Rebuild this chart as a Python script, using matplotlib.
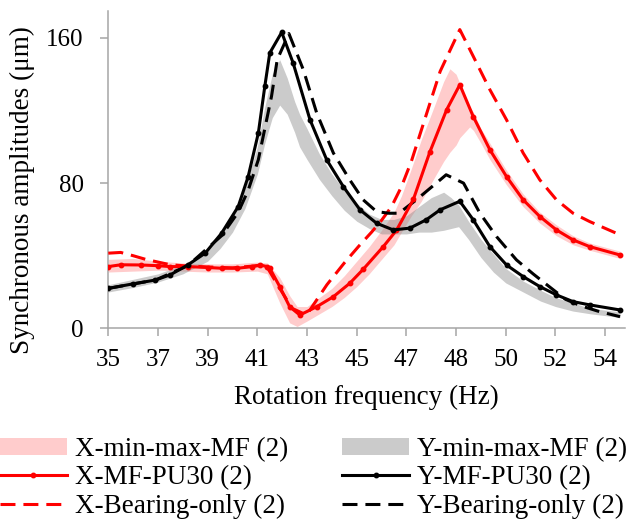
import numpy as np
import matplotlib
matplotlib.use("Agg")
import matplotlib.pyplot as plt
from matplotlib.patches import Patch
from matplotlib.lines import Line2D

# ---- data -----------------------------------------------------------------
tick_hz = [35, 37, 39, 41, 43, 45, 47, 48, 50, 52, 54]
tick_labels = ["35", "37", "39", "41", "43", "45", "47", "48", "50", "52", "54"]

# Y-MF-PU30 (2)
y_mf_hz = [35.0, 36.0, 36.9, 37.5, 38.2, 38.9, 39.56, 40.23, 40.63, 41.04, 41.3, 41.5,
           41.98, 42.44, 43.12, 43.79, 44.46, 45.13, 45.8, 46.47, 47.07, 47.4, 47.68,
           48.15, 48.69, 49.36, 50.03, 50.7, 51.37, 52.04, 52.71, 53.38, 54.6]
y_mf_amp = [22.0, 24.5, 26.6, 29.5, 34.9, 41.4, 52.4, 67.1, 83.6, 107.6, 133.3, 151.7,
            163.1, 146.2, 114.9, 92.9, 78.1, 65.3, 57.9, 54.2, 55.2, 59.8, 65.3,
            70.0, 59.8, 45.0, 34.9, 28.5, 23.0, 18.4, 14.7, 12.9, 10.1]

# Y-Bearing-only (2)
y_bo_hz = [35.0, 36.9, 38.2, 39.56, 40.23, 40.63, 41.04, 41.3, 41.57, 41.8, 42.27,
           42.85, 43.39, 44.06, 44.72, 45.26, 45.8, 46.3, 46.7, 47.2, 47.68, 47.8,
           48.3, 48.96, 49.63, 50.43, 51.1, 51.7, 52.4, 53.0, 53.7, 54.6]
y_bo_amp = [22.0, 26.6, 34.5, 51.0, 64.0, 76.0, 92.9, 110.0, 127.8, 148.0, 162.4,
            142.5, 118.6, 96.6, 81.8, 70.8, 64.3, 63.4, 63.4, 70.8, 81.8, 84.6,
            80.0, 63.4, 50.5, 37.7, 30.0, 23.5, 16.0, 12.5, 9.5, 6.4]

# X-MF-PU30 (2)
x_mf_hz = [35.0, 35.5, 36.3, 37.0, 37.5, 38.2, 39.0, 39.56, 40.2, 40.8, 41.1, 41.4,
           41.5, 41.9, 42.3, 42.71, 43.39, 44.06, 44.72, 45.26, 46.07, 46.6, 47.14,
           47.47, 47.81, 48.15, 48.69, 49.36, 50.03, 50.7, 51.37, 52.04,
           52.71, 53.38, 54.6]
x_mf_amp = [34.0, 35.0, 34.9, 34.5, 34.0, 34.0, 33.5, 33.1, 33.1, 34.0, 34.9, 34.0,
            33.1, 23.0, 11.9, 7.3, 11.9, 17.4, 24.8, 32.5, 45.0, 54.0, 71.0,
            97.0, 120.4, 134.2, 116.7, 98.4, 83.6, 70.8, 61.6, 54.2,
            48.7, 45.0, 40.4]

# X-Bearing-only (2)
x_bo_hz = [35.0, 35.5, 36.0, 36.5, 37.0, 37.5, 38.0, 39.0, 40.0, 41.0, 41.4, 41.9,
           42.4, 42.98, 43.8, 44.5, 45.1, 45.6, 46.0, 46.4, 46.8, 47.1, 47.4, 47.68,
           48.15, 48.69, 49.36, 50.03, 50.7, 51.37, 52.04, 52.71, 53.38, 54.6]
x_bo_amp = [41.4, 41.8, 40.0, 38.0, 36.5, 35.0, 34.5, 33.8, 33.3, 34.5, 33.5, 22.0,
            11.0, 7.3, 24.0, 36.0, 45.5, 53.0, 59.5, 67.0, 78.0, 92.0, 117.7, 141.6,
            164.6, 149.9, 131.5, 114.9, 96.6, 81.8, 70.8, 63.4, 58.8, 51.5]

# X-min-max-MF (2)
x_band_hz = [35.0, 36.0, 37.0, 38.0, 39.0, 40.0, 41.0, 41.4, 41.9, 42.3, 42.6, 43.0,
             43.5, 44.0, 44.5, 45.0, 45.5, 46.0, 46.5, 46.8, 47.1, 47.3, 47.5, 47.75,
             47.875, 48.0, 48.15, 48.55, 48.7, 49.0, 49.36, 50.03, 50.7, 51.37, 52.04,
             52.71, 53.38, 54.6]
x_band_lo = [31.0, 31.5, 32.0, 31.5, 31.0, 31.0, 31.5, 30.0, 14.0, 3.0, 1.0, 4.0,
             8.0, 12.0, 17.0, 23.0, 30.0, 38.0, 46.0, 53.0, 62.0, 70.0, 80.0, 92.0,
             97.0, 101.0, 105.0, 111.0, 109.0, 102.0, 93.0, 79.0, 67.0, 58.0, 51.0,
             46.0, 43.0, 38.5]
x_band_hi = [38.0, 38.5, 37.0, 36.0, 35.5, 35.5, 36.5, 36.0, 28.0, 18.0, 12.0, 12.0,
             17.0, 22.0, 29.0, 37.0, 45.0, 54.0, 64.0, 73.0, 88.0, 104.0, 118.0, 136.0,
             143.0, 140.0, 135.0, 122.0, 119.0, 110.0, 102.0, 87.0, 74.0, 64.0, 57.0,
             51.0, 47.0, 42.5]

# Y-min-max-MF (2)
y_band_hz = [35.0, 36.0, 37.0, 38.0, 39.0, 39.5, 40.0, 40.5, 41.0, 41.3, 41.6, 41.9,
             42.2, 42.5, 42.7, 43.0, 43.5, 44.0, 44.5, 45.0, 45.5, 46.0, 46.5, 47.0,
             47.25, 47.5, 47.75, 47.9, 48.1, 48.5, 49.0, 49.5, 50.0, 50.7, 51.4,
             52.0, 52.7, 53.4, 54.6]
y_band_lo = [20.0, 22.5, 25.5, 30.0, 37.0, 44.0, 53.0, 66.0, 85.0, 102.0, 116.0, 123.0,
             118.0, 108.0, 100.0, 93.0, 82.0, 73.0, 65.0, 59.0, 55.0, 52.0, 52.0, 52.0,
             53.0, 53.0, 54.0, 55.0, 56.0, 49.0, 39.0, 31.0, 25.0, 20.0, 15.0,
             12.0, 9.5, 8.0, 6.0]
y_band_hi = [24.0, 27.0, 30.0, 35.0, 43.0, 52.0, 62.0, 77.0, 100.0, 122.0, 140.0, 148.0,
             138.0, 125.0, 118.0, 110.0, 96.0, 85.0, 76.0, 69.0, 63.0, 60.0, 60.0, 62.0,
             67.0, 72.0, 75.0, 72.0, 68.0, 59.0, 49.0, 41.0, 33.0, 26.0, 21.0,
             17.0, 14.0, 11.0, 9.0]

# ---- style ----------------------------------------------------------------
plt.rcParams["font.family"] = ["Liberation Serif", "DejaVu Serif"]
AXIS_GREY = "#a6a6a6"
LW = 2.2
DASH = (4.9, 2.6)


def hz_to_pos(x):
    x = np.asarray(x, dtype=float)
    return np.where(x <= 47, x, np.where(x >= 48, x + 1.0, 47.0 + 2.0 * (x - 47.0)))


def pos_to_hz(p):
    p = np.asarray(p, dtype=float)
    return np.where(p <= 47, p, np.where(p >= 49, p - 1.0, 47.0 + (p - 47.0) / 2.0))


fig = plt.figure(figsize=(6.35, 5.21), dpi=100)
ax = fig.add_axes([108.3 / 635, 1 - 328.3 / 521, (625 - 108.3) / 635, (328.3 - 10.7) / 521])
ax.set_xscale("function", functions=(hz_to_pos, pos_to_hz))

ax.fill_between(x_band_hz, x_band_lo, x_band_hi, color="#ff0000", alpha=0.2,
                linewidth=0, zorder=1)
ax.fill_between(y_band_hz, y_band_lo, y_band_hi, color="#8c8c8c", alpha=0.45,
                linewidth=0, zorder=1)

ax.plot(x_bo_hz, x_bo_amp, color="#ff0000", lw=LW, dashes=DASH, zorder=3)
ax.plot(y_bo_hz, y_bo_amp, color="#000000", lw=LW, dashes=DASH, zorder=3)
ax.plot(x_mf_hz, x_mf_amp, color="#ff0000", lw=LW, marker="o", ms=3.2, zorder=4)
ax.plot(y_mf_hz, y_mf_amp, color="#000000", lw=LW, marker="o", ms=3.2, zorder=4)

ax.set_xlim(35, 54.8)
ax.set_ylim(0, 175)
ax.set_xticks(tick_hz)
ax.set_xticklabels(tick_labels)
ax.set_yticks([0, 80, 160])
ax.minorticks_off()

for side in ("top", "right"):
    ax.spines[side].set_visible(False)
for side in ("left", "bottom"):
    ax.spines[side].set_color(AXIS_GREY)
    ax.spines[side].set_linewidth(1.1)
ax.tick_params(axis="both", direction="out", length=5.8, width=1.1, color=AXIS_GREY,
               labelsize=18)
ax.tick_params(axis="y", pad=12)
ax.tick_params(axis="x", pad=9)

ax.set_xlabel("Rotation frequency (Hz)", fontsize=19.5, va="center")
ax.xaxis.set_label_coords(0.5, (328.3 - 397) / 317.6)
ax.set_ylabel("Synchronous amplitudes (μm)", fontsize=19.5, va="center")
ax.yaxis.set_label_coords((22 - 108.3) / 516.7, (328.3 - 190) / 317.6)

handles = [
    Patch(facecolor="#ff0000", alpha=0.2, linewidth=0),
    Line2D([], [], color="#ff0000", lw=LW, marker="o", ms=3.2, markevery=[1]),
    Line2D([], [], color="#ff0000", lw=LW, dashes=DASH),
    Patch(facecolor="#8c8c8c", alpha=0.45, linewidth=0),
    Line2D([], [], color="#000000", lw=LW, marker="o", ms=3.2, markevery=[1]),
    Line2D([], [], color="#000000", lw=LW, dashes=DASH),
]
labels = ["X-min-max-MF (2)", "X-MF-PU30 (2)", "X-Bearing-only (2)",
          "Y-min-max-MF (2)", "Y-MF-PU30 (2)", "Y-Bearing-only (2)"]
fig.legend(handles, labels, loc="upper left", bbox_to_anchor=(0.0, 1 - 437 / 521),
           ncol=2, frameon=False, fontsize=19.5, borderpad=0, borderaxespad=0,
           handlelength=2.47, handleheight=0.55, handletextpad=0.3,
           columnspacing=1.99, labelspacing=0.12)

fig.savefig("out.png", dpi=100)
